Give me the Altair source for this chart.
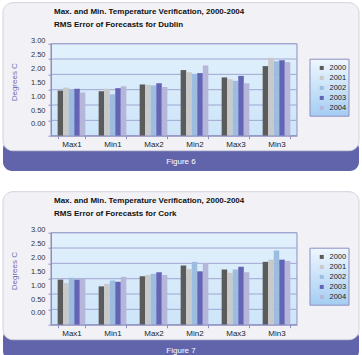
import altair as alt
import pandas as pd

# ---- data -------------------------------------------------------------
categories = ["Max1", "Min1", "Max2", "Min2", "Max3", "Min3"]
years = ["2000", "2001", "2002", "2003", "2004"]
y_ticks = [0.0, 0.5, 1.0, 1.5, 2.0, 2.5, 3.0]

dublin = {
    "2000": [1.47, 1.45, 1.67, 2.14, 1.90, 2.27],
    "2001": [1.57, 1.53, 1.66, 2.07, 1.84, 2.54],
    "2002": [1.49, 1.35, 1.64, 2.01, 1.79, 2.43],
    "2003": [1.53, 1.55, 1.71, 2.04, 1.95, 2.46],
    "2004": [1.41, 1.61, 1.59, 2.29, 1.71, 2.40],
}
cork = {
    "2000": [1.47, 1.25, 1.58, 1.93, 1.80, 2.05],
    "2001": [1.36, 1.33, 1.62, 1.81, 1.69, 2.12],
    "2002": [1.53, 1.44, 1.66, 2.05, 1.80, 2.42],
    "2003": [1.47, 1.40, 1.71, 1.74, 1.89, 2.12],
    "2004": [1.50, 1.56, 1.62, 2.00, 1.71, 2.08],
}

title_line1 = "Max. and Min. Temperature Verification, 2000-2004"
panels = [
    ("RMS Error of Forecasts for Dublin", "Figure 6", dublin),
    ("RMS Error of Forecasts for Cork", "Figure 7", cork),
]

# ---- style ------------------------------------------------------------
W, H = 246, 92
FONT = "Liberation Sans"
PURPLE = "#6163ab"
CARD = "#f1f1f6"
CARD_EDGE = "#d2d2dc"
EDGE = "#8e8ec0"
GRID = "#a2a6d2"
year_colors = ["#5b5b5b", "#c9c9c9", "#9dbde0", "#6464b4", "#b6b6da"]

sky = alt.Gradient(
    gradient="linear", x1=0, y1=0, x2=0, y2=1,
    stops=[alt.GradientStop(color="#e2f1fc", offset=0),
           alt.GradientStop(color="#cde5f9", offset=1)],
)
legend_fill = alt.Gradient(
    gradient="linear", x1=0, y1=0, x2=0, y2=1,
    stops=[alt.GradientStop(color="#eef7fe", offset=0),
           alt.GradientStop(color="#a4cdf2", offset=1)],
)

one = pd.DataFrame({"k": [0]})


def text_line(text, y, **style):
    return alt.Chart(pd.DataFrame({"t": [text]})).mark_text(
        font=FONT, fontSize=8, baseline="middle", **style
    ).encode(y=alt.value(y), text="t:N")


def panel(subtitle, fig_label, series):
    df = pd.DataFrame(
        [{"category": c, "year": y, "value": v}
         for y in years for c, v in zip(categories, series[y])]
    )

    footer = alt.Chart(one).mark_rect(fill=PURPLE, cornerRadius=9).encode(
        x=alt.value(-48), x2=alt.value(308), y=alt.value(96), y2=alt.value(127.3)
    )
    card = alt.Chart(one).mark_rect(
        fill=CARD, stroke=CARD_EDGE, strokeWidth=1, cornerRadius=10
    ).encode(x=alt.value(-48), x2=alt.value(308), y=alt.value(-41), y2=alt.value(107))

    plot_bg = alt.Chart(one).mark_rect(fill=sky, stroke=EDGE, strokeWidth=1).encode(
        x=alt.value(0), x2=alt.value(W), y=alt.value(0), y2=alt.value(H)
    )

    grid = alt.Chart(pd.DataFrame({"value": y_ticks[1:]})).mark_rule(
        color=GRID, strokeWidth=1
    ).encode(y=alt.Y("value:Q", scale=alt.Scale(domain=[0, 3]), axis=None))

    bars = alt.Chart(df).mark_bar().encode(
        x=alt.X(
            "category:N", sort=categories,
            scale=alt.Scale(paddingInner=0.325, paddingOuter=0.1625),
            axis=alt.Axis(
                title=None, labelAngle=0, tickBand="extent", tickSize=3,
                domainColor=EDGE, tickColor=EDGE, labelFont=FONT,
                labelFontSize=8, labelColor="#222", labelPadding=2, zindex=1,
            ),
        ),
        xOffset=alt.XOffset("year:N", sort=years),
        y=alt.Y(
            "value:Q", scale=alt.Scale(domain=[0, 3]),
            axis=alt.Axis(
                values=y_ticks, format=".2f", grid=False, zindex=1,
                domainColor=EDGE, tickColor=EDGE, tickSize=3,
                labelFont=FONT, labelFontSize=7.5, labelColor="#333",
                labelPadding=3, labelOffset={"expr": "-11.7 + 3 * datum.value"},
                title="Degrees C", titleFont=FONT, titleFontSize=8,
                titleFontWeight="normal", titleColor="#6e6eb8",
                titleX=-37, titleY=38, titleBaseline="middle", titleAlign="center",
            ),
        ),
        color=alt.Color(
            "year:N", sort=years,
            scale=alt.Scale(domain=years, range=year_colors),
            legend=alt.Legend(
                orient="none", legendX=259, legendY=15.5, title=None,
                symbolType="square", symbolSize=16, symbolStrokeWidth=0,
                labelFont=FONT, labelFontSize=7.5, labelColor="#222",
                rowPadding=1, padding=5, symbolOffset=3, labelOffset=4,
            ),
        ),
    )

    legend_bg = alt.Chart(one).mark_rect(
        fill=legend_fill, stroke=EDGE, strokeWidth=1
    ).encode(x=alt.value(259), x2=alt.value(298), y=alt.value(15.5), y2=alt.value(72.5))

    title1 = text_line(title_line1, -31.7, align="left", fontWeight="bold",
                       color="#111").encode(x=alt.value(3))
    title2 = text_line(subtitle, -18.7, align="left", fontWeight="bold",
                       color="#111").encode(x=alt.value(3))
    fig_text = text_line(fig_label, 118.5, align="center",
                         color="white").encode(x=alt.value(130))

    return alt.layer(
        footer, card, plot_bg, grid, legend_bg, bars, title1, title2, fig_text
    ).resolve_scale(y="independent").properties(width=W, height=H)


chart = (
    alt.vconcat(*[panel(s, f, d) for s, f, d in panels], spacing=19)
    .resolve_scale(color="independent")
    .resolve_legend(color="independent")
    .properties(
        padding={"left": 2, "top": 1.7, "right": 0, "bottom": 0},
        background="white",
    )
    .configure_view(stroke=None)
)

chart.save("out.html", embed_options={"renderer": "svg", "actions": False})
